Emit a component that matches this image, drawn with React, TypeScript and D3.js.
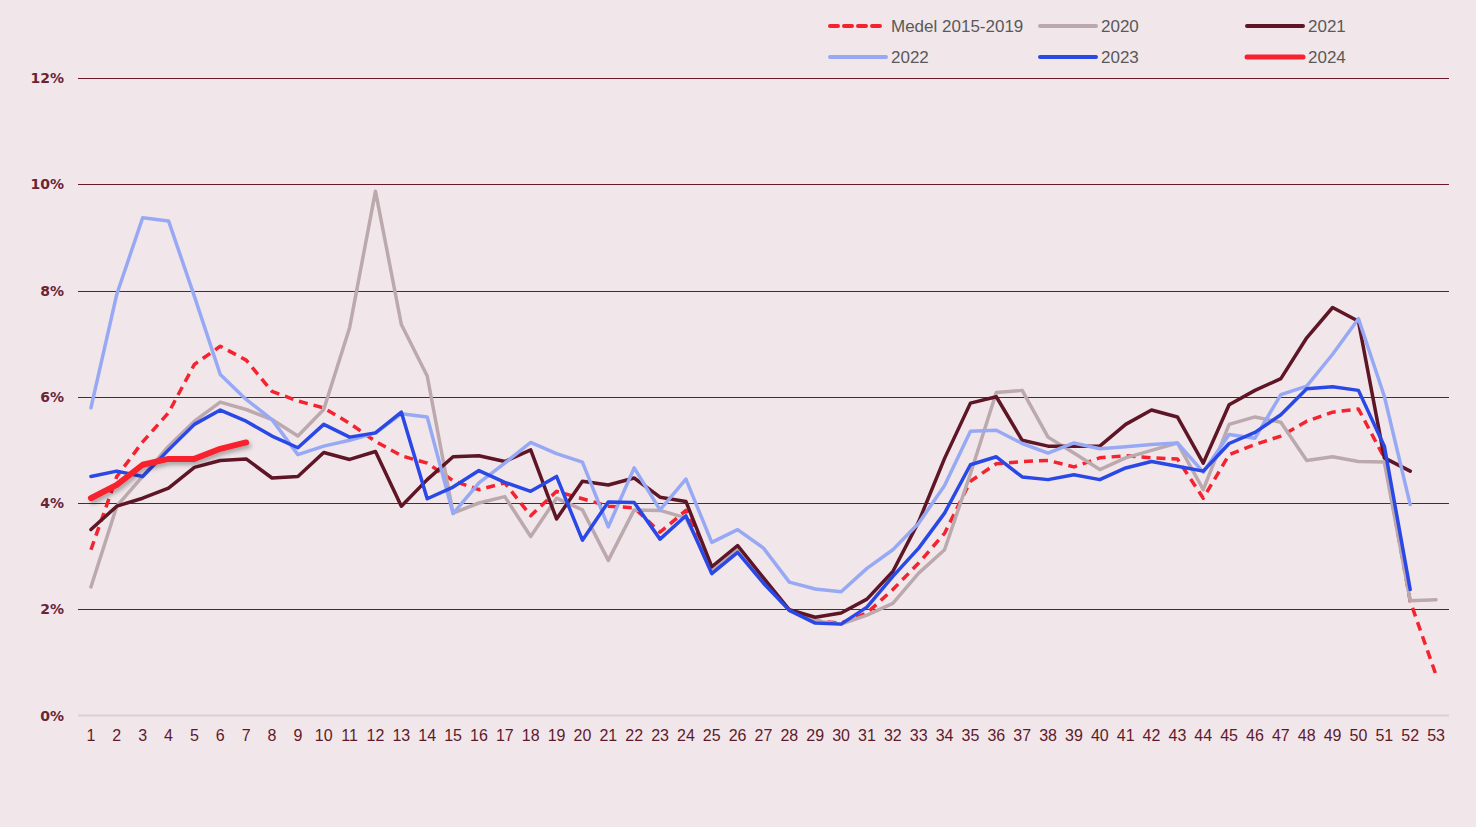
import React, { useEffect, useRef } from "react";
import * as d3 from "d3";

// week numbers 1..53
const weeks: number[] = Array.from({ length: 53 }, (_, i) => i + 1);
const yTicks: number[] = [0, 2, 4, 6, 8, 10, 12];

const medel: number[] = [
  3.12, 4.5, 5.15, 5.7, 6.61, 6.95, 6.69, 6.1, 5.92, 5.79, 5.5, 5.16, 4.89, 4.75, 4.42, 4.25, 4.38, 3.76,
  4.22, 4.08, 3.94, 3.91, 3.45, 3.86, 2.72, 3.12, 2.53, 1.98, 1.78, 1.74, 1.93, 2.37, 2.87, 3.43, 4.41,
  4.74, 4.78, 4.8, 4.68, 4.85, 4.89, 4.85, 4.83, 4.09, 4.91, 5.1, 5.26, 5.54, 5.71, 5.77, 4.85, 2.15, 0.76,
];
const y2020: number[] = [
  2.42, 3.94, 4.5, 5.07, 5.54, 5.9, 5.76, 5.57, 5.26, 5.76, 7.3, 9.87, 7.36, 6.39, 3.81, 4.0, 4.12, 3.37,
  4.09, 3.87, 2.92, 3.87, 3.86, 3.72, 2.75, 3.15, 2.55, 1.98, 1.78, 1.72, 1.89, 2.11, 2.68, 3.12, 4.55,
  6.08, 6.12, 5.24, 4.94, 4.63, 4.85, 4.99, 5.13, 4.25, 5.48, 5.62, 5.52, 4.8, 4.87, 4.78, 4.77, 2.16, 2.18,
];
const y2021: number[] = [
  3.5, 3.94, 4.09, 4.28, 4.67, 4.8, 4.83, 4.47, 4.5, 4.95, 4.82, 4.97, 3.94, 4.44, 4.87, 4.89, 4.78, 5.0,
  3.7, 4.41, 4.34, 4.47, 4.11, 4.03, 2.8, 3.2, 2.59, 1.99, 1.85, 1.93, 2.19, 2.71, 3.65, 4.84, 5.88, 6.0,
  5.18, 5.07, 5.07, 5.07, 5.48, 5.75, 5.62, 4.75, 5.85, 6.12, 6.34, 7.11, 7.68, 7.42, 4.85, 4.6,
];
const y2022: number[] = [
  5.79, 7.93, 9.37, 9.31, 7.89, 6.42, 5.95, 5.57, 4.91, 5.07, 5.18, 5.32, 5.68, 5.62, 3.8, 4.38, 4.75, 5.14,
  4.93, 4.77, 3.55, 4.66, 3.87, 4.45, 3.26, 3.5, 3.15, 2.51, 2.38, 2.33, 2.77, 3.12, 3.62, 4.33, 5.35, 5.37,
  5.12, 4.94, 5.13, 5.02, 5.06, 5.1, 5.13, 4.58, 5.29, 5.22, 6.04, 6.2, 6.8, 7.47, 6.01, 3.97,
];
const y2023: number[] = [
  4.5, 4.6, 4.5, 5.0, 5.48, 5.75, 5.54, 5.26, 5.04, 5.48, 5.24, 5.32, 5.71, 4.08, 4.3, 4.61, 4.39, 4.22,
  4.5, 3.3, 4.02, 4.01, 3.32, 3.76, 2.67, 3.07, 2.49, 1.98, 1.74, 1.72, 2.04, 2.62, 3.15, 3.81, 4.72, 4.87,
  4.49, 4.44, 4.53, 4.44, 4.66, 4.78, 4.69, 4.6, 5.12, 5.33, 5.66, 6.15, 6.19, 6.12, 5.07, 2.37,
];
const y2024: number[] = [4.09, 4.34, 4.72, 4.83, 4.83, 5.02, 5.14];

interface Series {
  name: string;
  values: number[];
  color: string;
  width: number;
  dash?: string;
  shadow?: boolean;
}

const series: Series[] = [
  { name: "Medel 2015-2019", values: medel, color: "#F5222F", width: 3.5, dash: "9,6" },
  { name: "2020", values: y2020, color: "#BBA9AE", width: 3.5 },
  { name: "2021", values: y2021, color: "#5E1526", width: 3.5 },
  { name: "2022", values: y2022, color: "#97A9F4", width: 3.5 },
  { name: "2023", values: y2023, color: "#2A48E6", width: 3.5 },
  { name: "2024", values: y2024, color: "#F7212F", width: 6, shadow: true },
];

const App: React.FC = () => {
  const svgRef = useRef<SVGSVGElement | null>(null);

  useEffect(() => {
    if (!svgRef.current) return;
    const width = 1476;
    const height = 827;

    const svg = d3.select(svgRef.current);
    svg.selectAll("*").remove();
    svg.attr("width", width).attr("height", height);

    svg.append("rect").attr("width", width).attr("height", height).attr("fill", "#F1E7EA");

    const defs = svg.append("defs");
    defs
      .append("filter")
      .attr("id", "shadow")
      .attr("x", "-20%")
      .attr("y", "-50%")
      .attr("width", "140%")
      .attr("height", "200%")
      .append("feDropShadow")
      .attr("dx", 2)
      .attr("dy", 3)
      .attr("stdDeviation", 2)
      .attr("flood-color", "#000")
      .attr("flood-opacity", 0.3);

    const x = d3.scalePoint<number>().domain(weeks).range([78, 1449]).padding(0.5);
    const y = d3.scaleLinear().domain([0, 12]).range([715.5, 78]);

    // gridlines
    svg
      .append("g")
      .selectAll("line")
      .data(yTicks.filter((t) => t > 0))
      .enter()
      .append("line")
      .attr("x1", 78)
      .attr("x2", 1449)
      .attr("y1", (d) => Math.round(y(d)) + 0.5)
      .attr("y2", (d) => Math.round(y(d)) + 0.5)
      .attr("stroke", "#6A1A2C")
      .attr("stroke-width", 1);

    // x axis line
    svg
      .append("line")
      .attr("x1", 78)
      .attr("x2", 1449)
      .attr("y1", y(0))
      .attr("y2", y(0))
      .attr("stroke", "#D9D2D4")
      .attr("stroke-width", 2);

    // y labels
    svg
      .append("g")
      .selectAll("text")
      .data(yTicks)
      .enter()
      .append("text")
      .attr("x", 64)
      .attr("y", (d) => y(d) + 5)
      .attr("text-anchor", "end")
      .attr("font-family", "DejaVu Sans")
      .attr("font-weight", "bold")
      .attr("font-size", 14)
      .attr("fill", "#6B2436")
      .text((d) => `${d}%`);

    // x labels
    svg
      .append("g")
      .selectAll("text")
      .data(weeks)
      .enter()
      .append("text")
      .attr("x", (d) => x(d)!)
      .attr("y", 741)
      .attr("text-anchor", "middle")
      .attr("font-family", "'Liberation Sans Narrow', 'Liberation Sans', Arial")
      .attr("font-size", 16)
      .attr("fill", "#5E1A2C")
      .text((d) => d);

    const line = d3
      .line<number>()
      .x((_, i) => x(weeks[i])!)
      .y((d) => y(d));

    series.forEach((s) => {
      svg
        .append("path")
        .datum(s.values)
        .attr("d", line)
        .attr("fill", "none")
        .attr("stroke", s.color)
        .attr("stroke-width", s.width)
        .attr("stroke-linejoin", "round")
        .attr("stroke-linecap", s.dash ? "butt" : "round")
        .attr("stroke-dasharray", s.dash ?? null)
        .attr("filter", s.shadow ? "url(#shadow)" : null);
    });

    // legend: 3 columns x 2 rows
    const colX = [830, 1040, 1247];
    const rowY = [26, 57];
    const legend = svg.append("g");
    series.forEach((s, i) => {
      const cx = colX[i % 3];
      const cy = rowY[Math.floor(i / 3)];
      legend
        .append("line")
        .attr("x1", cx)
        .attr("x2", cx + 56)
        .attr("y1", cy)
        .attr("y2", cy)
        .attr("stroke", s.color)
        .attr("stroke-width", s.shadow ? 5 : 4)
        .attr("stroke-linecap", "round")
        .attr("stroke-dasharray", s.dash ? "8,6" : null);
      legend
        .append("text")
        .attr("x", cx + 61)
        .attr("y", cy + 6)
        .attr("font-family", "'Liberation Sans', Arial")
        .attr("font-size", 17)
        .attr("fill", "#595959")
        .text(s.name);
    });
  }, []);

  return (
    <div style={{ position: "absolute", left: 0, top: 0 }}>
      <svg ref={svgRef}></svg>
    </div>
  );
};

export default App;
